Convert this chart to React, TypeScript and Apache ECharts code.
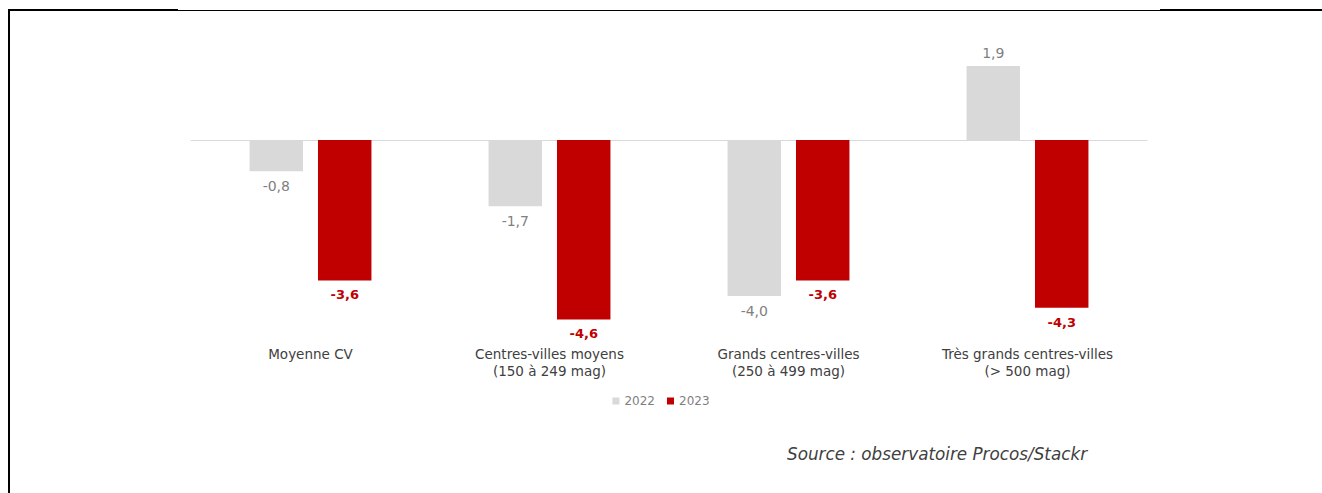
import React, { useEffect, useRef } from "react";
import * as echarts from "echarts";

const categories = [
  "Moyenne CV",
  "Centres-villes moyens\n(150 à 249 mag)",
  "Grands centres-villes\n(250 à 499 mag)",
  "Très grands centres-villes\n(> 500 mag)",
];
const values2022 = [-0.8, -1.7, -4.0, 1.9];
const values2023 = [-3.6, -4.6, -3.6, -4.3];
const seriesNames = ["2022", "2023"];
const sourceText = "Source : observatoire Procos/Stackr";

const FONT = "'DejaVu Sans', sans-serif";
const fmt = (v: number) => v.toFixed(1).replace(".", ",");

function toItems(vals: number[], color: string, bold: boolean) {
  return vals.map((v) => ({
    value: v,
    label: {
      show: true,
      position: v < 0 ? "bottom" : "top",
      distance: v < 0 ? 8 : 6,
      formatter: () => fmt(v),
      color,
      fontFamily: FONT,
      fontSize: bold ? 13 : 14,
      fontWeight: bold ? "bold" : "normal",
    },
  }));
}

export default function App() {
  const ref = useRef<HTMLDivElement>(null);
  useEffect(() => {
    if (!ref.current) return;
    const chart = echarts.init(ref.current, null, { renderer: "svg" });
    chart.setOption({
      animation: false,
      backgroundColor: "#ffffff",
      grid: { left: 191, right: 175, top: 23, bottom: 158, containLabel: false },
      legend: {
        data: seriesNames,
        left: "center",
        top: 390,
        icon: "rect",
        itemWidth: 7,
        itemHeight: 7,
        itemGap: 12,
        textStyle: { color: "#7f7f7f", fontFamily: FONT, fontSize: 12 },
      },
      xAxis: [
        {
          type: "category",
          data: categories,
          position: "bottom",
          axisLine: { show: false, onZero: false },
          axisTick: { show: false },
          axisLabel: {
            margin: 10,
            color: "#404040",
            fontFamily: FONT,
            fontSize: 13.5,
            lineHeight: 17,
          },
        },
        {
          type: "category",
          data: categories,
          position: "bottom",
          axisLine: { show: true, onZero: true, lineStyle: { color: "#d9d9d9", width: 1 } },
          axisTick: { show: false },
          axisLabel: { show: false },
        },
      ],
      yAxis: {
        type: "value",
        min: -5,
        max: 3,
        show: false,
        splitLine: { show: false },
      },
      series: [
        {
          name: seriesNames[0],
          type: "bar",
          xAxisIndex: 0,
          data: toItems(values2022, "#7f7f7f", false),
          itemStyle: { color: "#d9d9d9" },
          barGap: "28%",
          barCategoryGap: "49%",
        },
        {
          name: seriesNames[1],
          type: "bar",
          xAxisIndex: 0,
          data: toItems(values2023, "#c00000", true),
          itemStyle: { color: "#c00000" },
          barGap: "28%",
          barCategoryGap: "49%",
        },
      ],
      graphic: [
        { type: "line", shape: { x1: 9, y1: 9, x2: 9, y2: 493 }, style: { stroke: "#000", lineWidth: 2 } },
        { type: "line", shape: { x1: 8, y1: 10, x2: 178, y2: 10 }, style: { stroke: "#000", lineWidth: 2 } },
        { type: "line", shape: { x1: 178, y1: 10.5, x2: 1160, y2: 10.5 }, style: { stroke: "#000", lineWidth: 1 } },
        { type: "line", shape: { x1: 1160, y1: 10, x2: 1322, y2: 10 }, style: { stroke: "#000", lineWidth: 2 } },
        {
          type: "text",
          left: 787,
          top: 445,
          style: {
            text: sourceText,
            fill: "#404040",
            font: `italic 16.8px ${FONT}`,
          },
        },
      ],
    });
    return () => chart.dispose();
  }, []);
  return (
    <div
      ref={ref}
      style={{ position: "fixed", left: 0, top: 0, width: 1322, height: 493 }}
    />
  );
}
